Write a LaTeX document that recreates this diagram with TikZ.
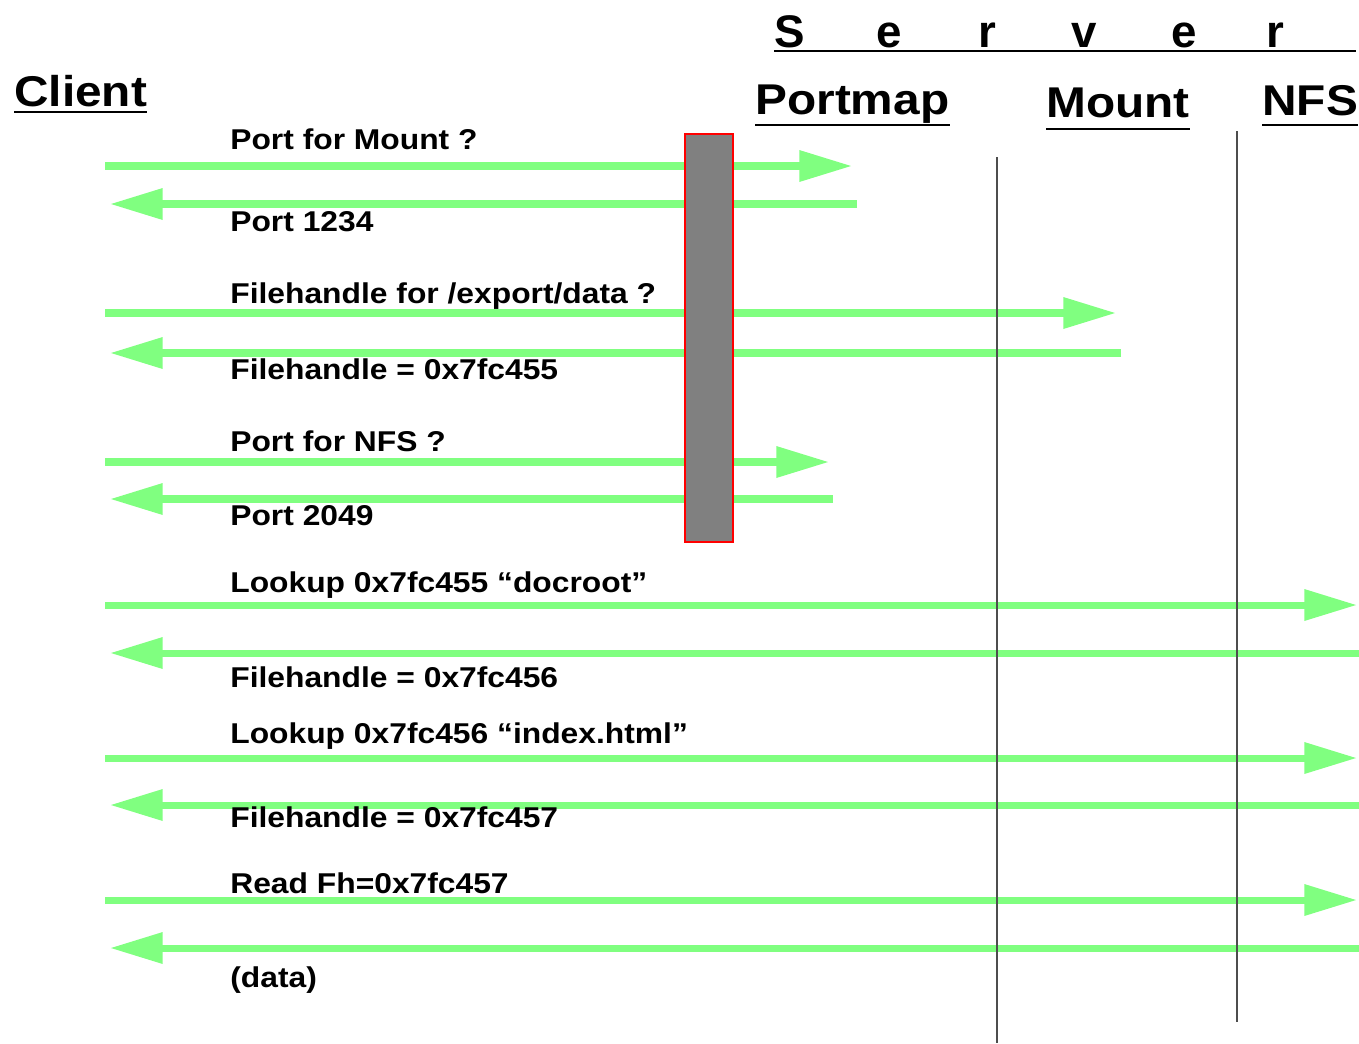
\documentclass[tikz,border=0pt]{standalone}
\usepackage{fontspec}
\setmainfont[FakeStretch=1.11]{Liberation Sans}
\newfontfamily\plainsans{Liberation Sans}
\usepackage{tikz}
\usetikzlibrary{arrows.meta,calc}
\definecolor{msggreen}{HTML}{80FF80}
\definecolor{boxgray}{HTML}{808080}
\definecolor{linegray}{HTML}{4D4D4D}

\begin{document}
\begin{tikzpicture}[x=0.2mm, y=-0.2mm,
    every node/.style={inner sep=0pt, font=\bfseries\fontsize{16.3}{19}\selectfont},
    msg/.style={draw=msggreen, line width=4pt, -{Triangle[length=30pt, width=17pt]}},
    msgtext/.style={anchor=base west},
    hdr/.style={anchor=base west, font=\bfseries\fontsize{24.5}{28}\selectfont},
    srvletter/.style={anchor=base, font=\plainsans\bfseries\fontsize{26}{30}\selectfont},
    uline/.style={line width=1.5pt},
    lifeline/.style={draw=linegray, line width=1.3pt}]
    \useasboundingbox (0,0) rectangle (1359,1043);

    % Headers
    \node[hdr] (client) at (14,106) {Client};
    \node[hdr] (portmap) at (755,114) {Portmap};
    \node[hdr] (mount) at (1046,117) {Mount};
    \node[hdr] (nfs) at (1262,115) {NFS};
    \draw[uline] ($(client.base west)+(0,6)$) -- ($(client.base east)+(0,6)$);
    \draw[uline] ($(portmap.base west)+(0,11)$) -- ($(portmap.base east)+(0,11)$);
    \draw[uline] ($(mount.base west)+(0,12)$) -- ($(mount.base east)+(0,12)$);
    \draw[uline] ($(nfs.base west)+(0,10)$) -- ($(nfs.base east)+(0,10)$);

    % Server
    \node[srvletter] (s1) at (790,47) {S};
    \node[srvletter] (s2) at (889,47) {e};
    \node[srvletter] (s3) at (987,47) {r};
    \node[srvletter] (s4) at (1084,47) {v};
    \node[srvletter] (s5) at (1184,47) {e};
    \node[srvletter] (s6) at (1275,47) {r};
    \coordinate (srvend) at (1356,51);
    \draw[uline] ($(s1.base west)+(0,4)$) -- (srvend);

    % Messages
    \coordinate (cl1) at (105,166);  \coordinate (sv1) at (852,166);
    \coordinate (cl2) at (110,204);  \coordinate (sv2) at (857,204);
    \coordinate (cl3) at (105,313);  \coordinate (sv3) at (1116,313);
    \coordinate (cl4) at (110,353);  \coordinate (sv4) at (1121,353);
    \coordinate (cl5) at (105,462);  \coordinate (sv5) at (829,462);
    \coordinate (cl6) at (110,499);  \coordinate (sv6) at (833,499);
    \coordinate (cl7) at (105,605);  \coordinate (sv7) at (1357,605);
    \coordinate (cl8) at (110,653);  \coordinate (sv8) at (1359,653);
    \coordinate (cl9) at (105,758);  \coordinate (sv9) at (1357,758);
    \coordinate (cl10) at (110,805); \coordinate (sv10) at (1359,805);
    \coordinate (cl11) at (105,900); \coordinate (sv11) at (1357,900);
    \coordinate (cl12) at (110,948); \coordinate (sv12) at (1359,948);

    \draw[msg] (cl1) -- (sv1);
    \draw[msg] (sv2) -- (cl2);
    \draw[msg] (cl3) -- (sv3);
    \draw[msg] (sv4) -- (cl4);
    \draw[msg] (cl5) -- (sv5);
    \draw[msg] (sv6) -- (cl6);
    \draw[msg] (cl7) -- (sv7);
    \draw[msg] (sv8) -- (cl8);
    \draw[msg] (cl9) -- (sv9);
    \draw[msg] (sv10) -- (cl10);
    \draw[msg] (cl11) -- (sv11);
    \draw[msg] (sv12) -- (cl12);

    \node[msgtext] (t1) at (230,149) {Port for Mount ?};
    \node[msgtext] (t2) at (230,231) {Port 1234};
    \node[msgtext] (t3) at (230,303) {Filehandle for /export/data ?};
    \node[msgtext] (t4) at (230,379) {Filehandle = 0x7fc455};
    \node[msgtext] (t5) at (230,451) {Port for NFS ?};
    \node[msgtext] (t6) at (230,525) {Port 2049};
    \node[msgtext] (t7) at (230,592) {Lookup 0x7fc455 “docroot”};
    \node[msgtext] (t8) at (230,687) {Filehandle = 0x7fc456};
    \node[msgtext] (t9) at (230,743) {Lookup 0x7fc456 “index.html”};
    \node[msgtext] (t10) at (230,827) {Filehandle = 0x7fc457};
    \node[msgtext] (t11) at (230,893) {Read Fh=0x7fc457};
    \node[msgtext] (t12) at (230,987) {(data)};

    % Portmap activity box
    \node[fill=boxgray, draw=red, line width=0.6pt, minimum width=9.6mm, minimum height=81.6mm] (pmbox) at (709,338) {};

    % Lifelines
    \coordinate (mtop) at (997,157);  \coordinate (mbot) at (997,1043);
    \coordinate (ntop) at (1237,131); \coordinate (nbot) at (1237,1022);
    \draw[lifeline] (mtop) -- (mbot);
    \draw[lifeline] (ntop) -- (nbot);
\end{tikzpicture}
\end{document}
